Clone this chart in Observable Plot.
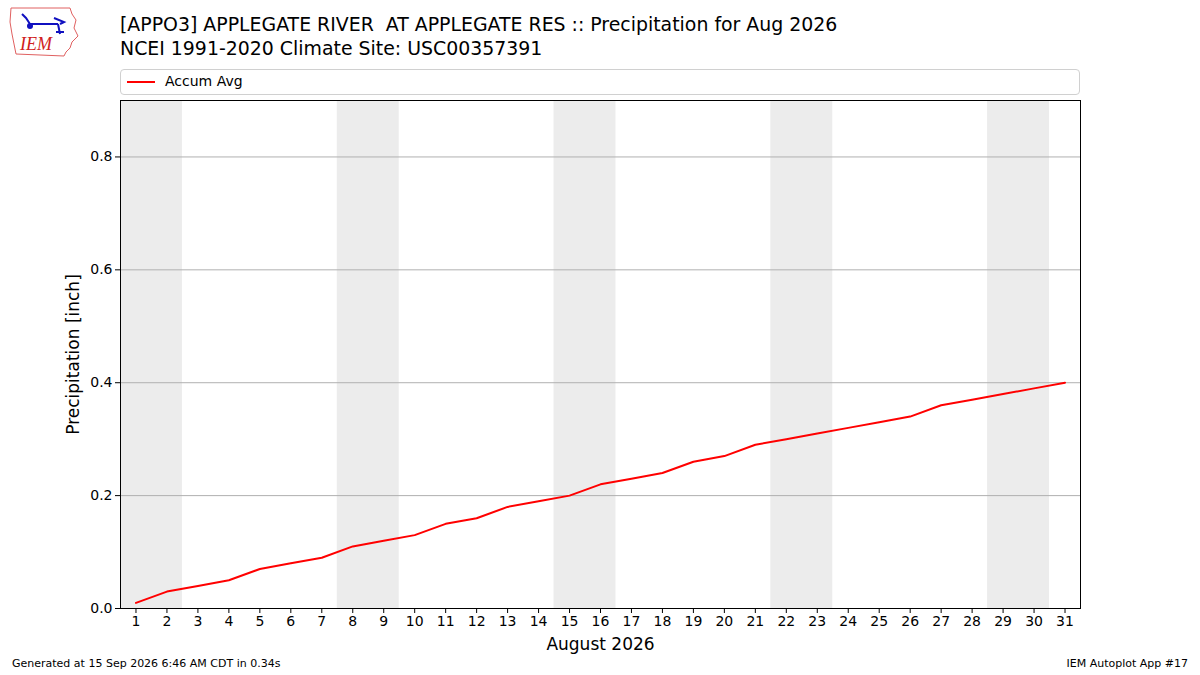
<!DOCTYPE html>
<html>
<head>
<meta charset="utf-8">
<script src="https://cdn.jsdelivr.net/npm/d3@7"></script>
<script src="https://cdn.jsdelivr.net/npm/@observablehq/plot@0.6"></script>
<style>
  html, body { margin: 0; padding: 0; background: #fff; }
  body { width: 1200px; height: 675px; position: relative; overflow: hidden; font-family: "DejaVu Sans", sans-serif; color: #000; }
  .abs { position: absolute; white-space: nowrap; }
  #title { left: 120px; top: 12px; font-size: 18.9px; line-height: 24px; }
  #legend { left: 120px; top: 69px; width: 960px; height: 26px; border: 1px solid #d0d0d0; border-radius: 4px; box-sizing: border-box; background: #fff; }
  #legend .swatch { position: absolute; left: 6px; top: 11px; width: 28px; height: 2px; background: #ff0000; }
  #legend .lab { position: absolute; left: 44px; top: 3px; font-size: 14px; }
  #foot-l { left: 12px; top: 657px; font-size: 11px; }
  #foot-r { right: 12px; top: 657px; font-size: 11px; }
  #chart { position: absolute; left: 0; top: 0; }
  #logo { left: 8px; top: 6px; }
</style>
</head>
<body>
<div id="chart"></div>
<div class="abs" id="title">[APPO3] APPLEGATE RIVER&nbsp; AT APPLEGATE RES :: Precipitation for Aug 2026<br>NCEI 1991-2020 Climate Site: USC00357391</div>
<div class="abs" id="legend"><div class="swatch"></div><div class="lab">Accum Avg</div></div>
<div class="abs" id="foot-l">Generated at 15 Sep 2026 6:46 AM CDT in 0.34s</div>
<div class="abs" id="foot-r">IEM Autoplot App #17</div>
<svg class="abs" id="logo" width="72" height="52" viewBox="0 0 72 52">
  <path d="M3,2 L62,2 L64,8 L68,14 L66,22 L70,30 L64,36 L62,42 L58,46 L56,50 L8,48 L6,38 L4,28 L2,16 Z" fill="none" stroke="#e06060" stroke-width="1"/>
  <path d="M14,8 L18,12 L22,18 L50,18 M46,12 L56,16 L52,18 M50,18 L52,28 M48,26 L56,26" fill="none" stroke="#1010c0" stroke-width="2"/>
  <circle cx="22" cy="20" r="3" fill="#1010c0"/>
  <text x="12" y="44" font-family="Liberation Serif, serif" font-style="italic" font-size="18" fill="#d02020">IEM</text>
</svg>
<script>
const days = d3.range(1, 32);
const accum = [0.01, 0.03, 0.04, 0.05, 0.07, 0.08, 0.09, 0.11, 0.12, 0.13,
               0.15, 0.16, 0.18, 0.19, 0.20, 0.22, 0.23, 0.24, 0.26, 0.27,
               0.29, 0.30, 0.31, 0.32, 0.33, 0.34, 0.36, 0.37, 0.38, 0.39, 0.40];
const weekendStarts = [1, 8, 15, 22, 29];
const yTicks = [0.0, 0.2, 0.4, 0.6, 0.8];
const yMax = 0.9;

const data = days.map((d, i) => ({day: d, value: accum[i]}));
const weekends = weekendStarts.map(d => ({x1: d - 0.5, x2: d + 1.5}));

const chart = Plot.plot({
  width: 1200,
  height: 675,
  marginLeft: 120,
  marginRight: 120,
  marginTop: 100,
  marginBottom: 67,
  style: {fontFamily: "DejaVu Sans, sans-serif", fontSize: "14px", background: "transparent", overflow: "visible"},
  x: {domain: [0.5, 31.5], label: null},
  y: {domain: [0, yMax], label: null},
  marks: [
    Plot.rect(weekends, {x1: "x1", x2: "x2", y1: 0, y2: yMax, fill: "#ececec"}),
    Plot.gridY(yTicks.slice(1), {stroke: "#b0b0b0", strokeOpacity: 1, strokeWidth: 1}),
    Plot.line(data, {x: "day", y: "value", stroke: "#ff0000", strokeWidth: 2}),
    Plot.frame({stroke: "#000", strokeWidth: 1}),
    Plot.axisX(days, {tickSize: 5, tickPadding: 3, fontSize: 14, stroke: "#000", label: null}),
    Plot.axisY(yTicks, {tickSize: 5, tickPadding: 3, fontSize: 14, tickFormat: d3.format(".1f"), label: null}),
    Plot.text(["August 2026"], {frameAnchor: "bottom", dy: 41, fontSize: 17, textAnchor: "middle"}),
    Plot.text(["Precipitation [inch]"], {frameAnchor: "left", dx: -47, rotate: -90, fontSize: 17, textAnchor: "middle"})
  ]
});
document.getElementById("chart").appendChild(chart);
</script>
</body>
</html>
